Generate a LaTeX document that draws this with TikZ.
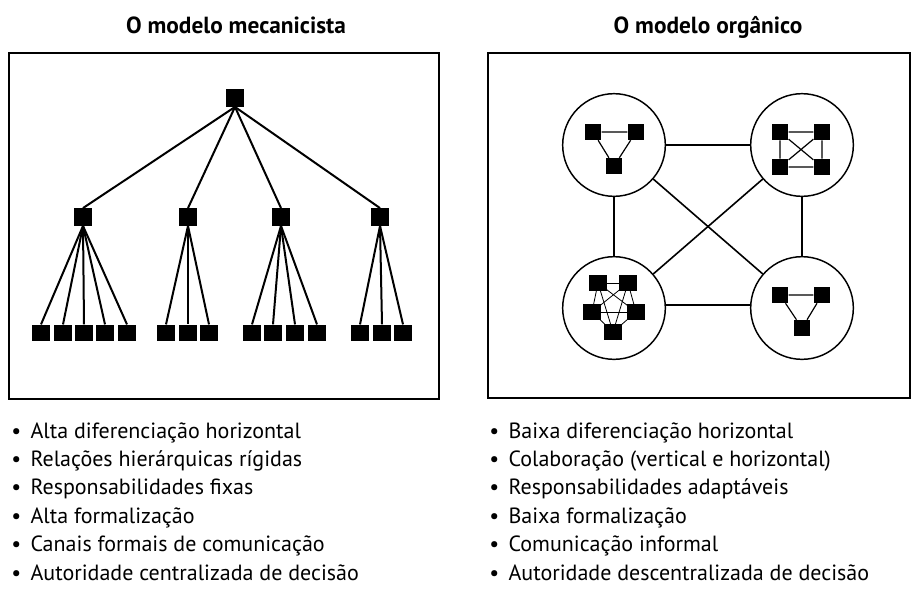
\documentclass[tikz,border=0pt]{standalone}
\usepackage{fontspec}
\setmainfont{PT Sans}
\newfontfamily\bodyfont{PT Sans}
\newfontfamily\titlefont{PT Sans Bold}
\begin{document}
\begin{tikzpicture}[x=0.75pt,y=-0.75pt,
  frame/.style={line width=1.5pt},
  edge/.style={line width=1.5pt},
  boss/.style={fill=black, minimum width=13.5pt, minimum height=13pt, inner sep=0pt},
  leaf/.style={fill=black, minimum width=13.5pt, minimum height=12.5pt, inner sep=0pt},
  unit/.style={circle, draw, line width=1.1pt, minimum size=77pt, inner sep=0pt},
  member/.style={fill=black, minimum width=12.5pt, minimum height=12pt, inner sep=0pt},
  link/.style={line width=1.2pt},
  inner/.style={line width=0.9pt},
  thin/.style={line width=0.6pt},
  title/.style={font=\titlefont\fontsize{17.5}{20}\selectfont, anchor=base},
  item/.style={font=\bodyfont\fontsize{16.5}{19}\selectfont, anchor=base west, inner sep=0pt}
]
\useasboundingbox (0,0) rectangle (912,601);

% titles
\node[title] (t1) at (236,33) {O modelo mecanicista};
\node[title] (t2) at (708,33) {O modelo orgânico};

% frames
\draw[frame] (9,53) rectangle (439,399);
\draw[frame] (488,53) rectangle (910,398);

% ---- mechanistic tree
\node[boss] (T) at (235,98) {};
\node[boss] (M1) at (83,217) {};
\node[boss] (M2) at (188,217) {};
\node[boss] (M3) at (281,217) {};
\node[boss] (M4) at (380,217) {};
\foreach \m in {1,2,3,4} \draw[edge] (T.south) -- (M\m.north);

\foreach \x [count=\i] in {41,63,84,105,127} {
  \node[leaf] (La\i) at (\x,333) {};
  \draw[edge] (M1.south) -- (La\i.north);
}
\foreach \x [count=\i] in {166,188,209} {
  \node[leaf] (Lb\i) at (\x,333) {};
  \draw[edge] (M2.south) -- (Lb\i.north);
}
\foreach \x [count=\i] in {252,273,295,317} {
  \node[leaf] (Lc\i) at (\x,333) {};
  \draw[edge] (M3.south) -- (Lc\i.north);
}
\foreach \x [count=\i] in {360,382,403} {
  \node[leaf] (Ld\i) at (\x,333) {};
  \draw[edge] (M4.south) -- (Ld\i.north);
}

% ---- organic model
\node[unit] (C1) at (614,145) {};
\node[unit] (C2) at (802,145) {};
\node[unit] (C3) at (614,308) {};
\node[unit] (C4) at (802,308) {};
\draw[link] (C1) -- (C2);
\draw[link] (C1) -- (C3);
\draw[link] (C2) -- (C4);
\path (C3.east) ++(0,-3) coordinate (c3e) (C4.west) ++(0,-3) coordinate (c4w);
\draw[link] (c3e) -- (c4w);
\draw[link] (C1) -- (C4);
\draw[link] (C3) -- (C2);

% top-left unit
\node[member] (a1) at (593,132) {};
\node[member] (a2) at (636,132) {};
\node[member] (a3) at (614,166) {};
\draw[inner] (a1) -- (a2) (a1) -- (a3) (a2) -- (a3);

% top-right unit
\node[member] (b1) at (780,132) {};
\node[member] (b2) at (822,132) {};
\node[member] (b3) at (780,167) {};
\node[member] (b4) at (822,167) {};
\draw[inner] (b1) -- (b2) (b3) -- (b4) (b1) -- (b3) (b2) -- (b4) (b1) -- (b4) (b2) -- (b3);

% bottom-left unit
\node[member] (d1) at (598,283) {};
\node[member] (d2) at (628,283) {};
\node[member] (d3) at (592,312) {};
\node[member] (d4) at (636,312) {};
\node[member] (d5) at (613,332) {};
\foreach \p/\q in {1/2,1/3,1/4,1/5,2/3,2/4,2/5,3/4,3/5,4/5}
  \draw[thin] (d\p.center) -- (d\q.center);
\foreach \k in {1,...,5} \fill (d\k.south west) rectangle (d\k.north east);

% bottom-right unit
\node[member] (e1) at (780,295) {};
\node[member] (e2) at (822,295) {};
\node[member] (e3) at (802,328) {};
\draw[inner] (e1) -- (e2) (e1) -- (e3) (e2) -- (e3);

% ---- lists
\foreach \txt [count=\i] in {Alta diferenciação horizontal,
  Relações hierárquicas rígidas,
  Responsabilidades fixas,
  Alta formalização,
  Canais formais de comunicação,
  Autoridade centralizada de decisão} {
  \node[item] (l\i) at (11,{438+28.4*(\i-1)}) {•\hspace{7pt}\txt};
}
\foreach \txt [count=\i] in {Baixa diferenciação horizontal,
  Colaboração (vertical e horizontal),
  Responsabilidades adaptáveis,
  Baixa formalização,
  Comunicação informal,
  Autoridade descentralizada de decisão} {
  \node[item] (r\i) at (489,{438+28.4*(\i-1)}) {•\hspace{7pt}\txt};
}
\end{tikzpicture}
\end{document}
